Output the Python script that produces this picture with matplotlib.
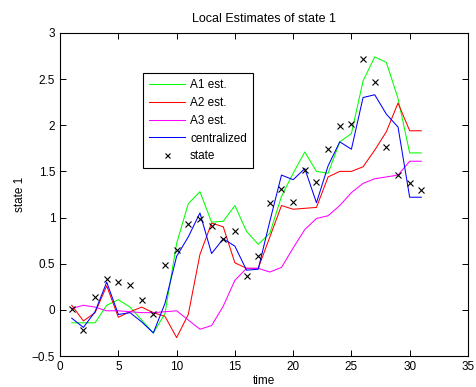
import numpy as np
import matplotlib
matplotlib.use("Agg")
import matplotlib.pyplot as plt

plt.rcParams["font.family"] = ["Liberation Sans", "DejaVu Sans"]

# ── Data ──────────────────────────────────────────────────────────────────────
time = np.arange(1, 32)

a1_est = [-0.14, -0.14, -0.14, 0.05, 0.11, 0.03, -0.11, -0.25, -0.04, 0.72,
          1.15, 1.28, 0.95, 0.96, 1.13, 0.85, 0.71, 0.83, 1.23, 1.48,
          1.71, 1.50, 1.48, 1.82, 1.91, 2.48, 2.74, 2.68, 2.29, 1.70, 1.70]

a2_est = [0.05, -0.12, -0.03, 0.26, -0.08, -0.02, 0.03, -0.03, -0.07, -0.30,
          -0.05, 0.60, 0.94, 0.90, 0.51, 0.45, 0.45, 0.79, 1.13, 1.09,
          1.10, 1.11, 1.44, 1.50, 1.50, 1.55, 1.73, 1.93, 2.24, 1.94, 1.94]

a3_est = [0.015, 0.05, 0.03, -0.01, -0.01, -0.02, -0.03, -0.03, -0.02, -0.01,
          -0.11, -0.21, -0.17, 0.04, 0.32, 0.45, 0.45, 0.41, 0.46, 0.67,
          0.87, 0.99, 1.02, 1.13, 1.27, 1.37, 1.42, 1.44, 1.46, 1.61, 1.61]

centralized = [-0.09, -0.19, -0.02, 0.30, -0.05, -0.03, -0.13, -0.25, 0.07, 0.58,
               0.79, 1.05, 0.61, 0.77, 0.69, 0.43, 0.44, 0.96, 1.46, 1.41,
               1.53, 1.16, 1.56, 1.82, 1.74, 2.30, 2.33, 2.12, 1.98, 1.22, 1.22]

state = [0.01, -0.22, 0.14, 0.33, 0.30, 0.27, 0.11, -0.04, 0.49, 0.65,
         0.93, 0.98, 0.91, 0.77, 0.85, 0.37, 0.58, 1.16, 1.31, 1.17,
         1.51, 1.38, 1.74, 1.99, 2.01, 2.72, 2.47, 1.76, 1.46, 1.37, 1.30]

fig = plt.figure(figsize=(4.77, 3.87), dpi=100)
ax = fig.add_axes([0.126, 0.080, 0.855, 0.835])

lw = 0.75
ax.plot(time, a1_est, color="#00ff00", lw=lw, label="A1 est.")
ax.plot(time, a2_est, color="#ff0000", lw=lw, label="A2 est.")
ax.plot(time, a3_est, color="#ff00ff", lw=lw, label="A3 est.")
ax.plot(time, centralized, color="#0000ff", lw=lw, label="centralized")
ax.plot(time, state, "x", color="black", ms=4.5, mew=0.8, label="state")

ax.set_xlim(0, 35)
ax.set_ylim(-0.5, 3)
ax.set_xticks(np.arange(0, 36, 5))
ax.set_yticks(np.arange(-0.5, 3.01, 0.5))
ax.set_yticklabels(["\u22120.5", "0", "0.5", "1", "1.5", "2", "2.5", "3"])
ax.tick_params(direction="in", top=True, right=True, labelsize=8.5, length=4, width=0.7)
for s in ax.spines.values():
    s.set_linewidth(0.8)

ax.set_title("Local Estimates of state 1", fontsize=9, pad=8)
ax.set_xlabel("time", fontsize=8.5, labelpad=1.5)
ax.set_ylabel("state 1", fontsize=8.5, labelpad=4)

leg = ax.legend(loc="upper left", bbox_to_anchor=(0.203, 0.876), fontsize=8.5,
                handlelength=3.1, fancybox=False, framealpha=1, edgecolor="black",
                borderpad=0.5, labelspacing=0.5, handletextpad=0.4, borderaxespad=0,
                markerscale=0.8)
leg.get_frame().set_linewidth(0.8)

fig.savefig("out.png", dpi=100)
